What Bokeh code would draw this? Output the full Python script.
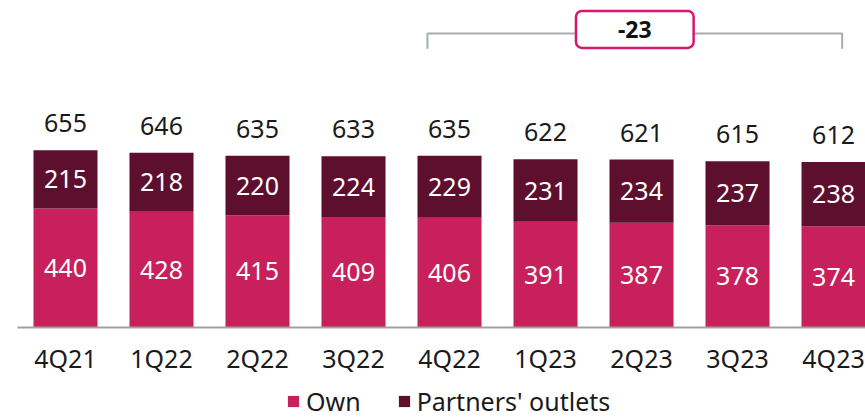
from bokeh.plotting import figure
from bokeh.models import ColumnDataSource, Label, Legend
from bokeh.core.properties import value
from bokeh.embed import file_html
from bokeh.resources import INLINE

quarters = ["4Q21", "1Q22", "2Q22", "3Q22", "4Q22", "1Q23", "2Q23", "3Q23", "4Q23"]
own = [440, 428, 415, 409, 406, 391, 387, 378, 374]
partners = [215, 218, 220, 224, 229, 231, 234, 237, 238]
totals = [655, 646, 635, 633, 635, 622, 621, 615, 612]
change_label = "-23"

OWN_C = "#C8205B"
PART_C = "#5E0F2E"
FONT = "Noto Sans"

xs = list(range(len(quarters)))
src = ColumnDataSource(dict(
    x=xs,
    q=quarters,
    zero=[0] * len(xs),
    own=own,
    partners=partners,
    own_mid=[o / 2 for o in own],
    part_mid=[o + p / 2 for o, p in zip(own, partners)],
    top=[o + p for o, p in zip(own, partners)],
    own_txt=[str(v) for v in own],
    part_txt=[str(v) for v in partners],
    tot_txt=[str(v) for v in totals],
))

p = figure(frame_width=865, frame_height=420, output_backend="svg", toolbar_location=None,
           x_range=(-0.677, 8.333), y_range=(-343.8, 1209),
           min_border_left=0, min_border_right=0, min_border_top=0, min_border_bottom=0)
p.outline_line_color = None
p.xgrid.visible = False
p.ygrid.visible = False
p.yaxis.visible = False
p.xaxis.visible = False

rs = p.vbar_stack(["own", "partners"], x="x", width=0.667, source=src,
                  color=[OWN_C, PART_C], line_color=None)

# baseline (category axis line)
p.segment(x0=-0.5, y0=0, x1=8.6, y1=0, line_color="#A0A0A0", line_width=2)

p.text(x="x", y="own_mid", text="own_txt", source=src, text_color="white",
       text_font=value(FONT), text_font_size="25px",
       text_align="center", text_baseline="middle")
p.text(x="x", y="part_mid", text="part_txt", source=src, text_color="white",
       text_font=value(FONT), text_font_size="25px",
       text_align="center", text_baseline="middle")
p.text(x="x", y="top", text="tot_txt", source=src, text_color="#1a1a1a",
       text_font=value(FONT), text_font_size="25px",
       text_align="center", text_baseline="bottom", y_offset=-18)
# category labels
p.text(x="x", y="zero", text="q", source=src, text_color="#1a1a1a",
       text_font=value(FONT), text_font_size="25px",
       text_align="center", text_baseline="middle", y_offset=30)

# bracket between 4Q22 and 4Q23
bl, br = 4 - 0.23, 8 + 0.09
p.line(x=[bl, bl, br, br], y=[1031, 1087, 1087, 1031], line_color="#A7ADB3", line_width=2)
p.add_layout(Label(x=(bl + br) / 2, y=1102, text=change_label, text_align="center",
                   text_baseline="middle", text_font=FONT, text_font_size="23px",
                   text_font_style="bold", text_color="#111111",
                   background_fill_color="white", border_line_color="#D6166F",
                   border_line_width=2.5, border_radius=6, padding=(42, 10)))

legend = Legend(items=[("Own", [rs[0]]), ("Partners' outlets", [rs[1]])],
                orientation="horizontal", location=(286, 2),
                label_text_font=FONT, label_text_font_size="25px", label_text_color="#1a1a1a",
                glyph_width=14, glyph_height=14, spacing=36, label_standoff=6,
                border_line_color=None, background_fill_alpha=0, margin=0, padding=0)
p.add_layout(legend)

open("out.html", "w").write(file_html(p, INLINE))
